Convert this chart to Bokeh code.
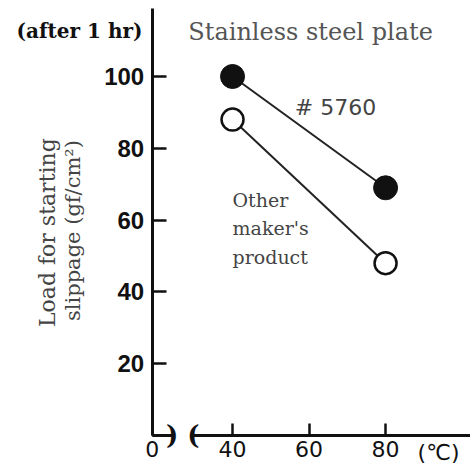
import math
from bokeh.plotting import figure
from bokeh.models import Range1d, FixedTicker, Label
from bokeh.embed import file_html
from bokeh.resources import INLINE

# ---- data ----
temps = [40, 80]
load_5760 = [100, 69]
load_other = [88, 48]

x_ticks = [19, 40, 60, 80]
x_tick_labels = {19: "0"}
y_ticks = [20, 40, 60, 80, 100]

X_ORIGIN = 19
X_START, X_END = -20.65, 102.2
Y_START, Y_END = -9.75, 121.17
Y_AXIS_TOP = 119
BREAK_L, BREAK_R = 24.2, 29.8

p = figure(width=470, height=470,
           x_range=Range1d(X_START, X_END), y_range=Range1d(Y_START, Y_END),
           output_backend="svg", toolbar_location=None,
           min_border_left=0, min_border_right=0,
           min_border_top=0, min_border_bottom=0)
p.outline_line_color = None
p.grid.visible = False
p.background_fill_color = "white"
p.border_fill_color = "white"

# x axis (its line is drawn as broken segments below)
xa = p.xaxis[0]
xa.fixed_location = 0
xa.bounds = (X_ORIGIN, X_END)
xa.ticker = FixedTicker(ticks=x_ticks)
xa.major_label_overrides = x_tick_labels
xa.axis_line_color = None
xa.major_tick_in = 12
xa.major_tick_out = 0
xa.major_tick_line_width = 2.5
xa.major_tick_line_color = "#111111"
xa.minor_tick_line_color = None
xa.major_label_text_font = "DejaVu Sans"
xa.major_label_text_font_size = "22px"
xa.major_label_text_color = "#111111"
xa.major_label_standoff = 6

ya = p.yaxis[0]
ya.fixed_location = X_ORIGIN
ya.bounds = (0, Y_AXIS_TOP)
ya.ticker = FixedTicker(ticks=y_ticks)
ya.axis_line_width = 3
ya.axis_line_color = "#111111"
ya.major_tick_in = 14
ya.major_tick_out = 0
ya.major_tick_line_width = 2.5
ya.major_tick_line_color = "#111111"
ya.minor_tick_line_color = None
ya.major_label_text_font = "Liberation Sans"
ya.major_label_text_font_style = "bold"
ya.major_label_text_font_size = "24px"
ya.major_label_text_color = "#111111"
ya.major_label_standoff = 8

# broken x axis line
p.segment(x0=[X_ORIGIN, BREAK_R], y0=[0, 0], x1=[BREAK_L, X_END], y1=[0, 0],
          line_width=3, line_color="#111111")
for bx, ch in [(BREAK_L, ")"), (BREAK_R, "(")]:
    p.add_layout(Label(x=bx, y=0, text=ch, text_align="center", text_baseline="middle",
                       text_font="DejaVu Serif", text_font_style="bold",
                       text_font_size="26px", text_color="#111111"))

# series
p.line(temps, load_5760, line_width=2, line_color="#222222")
p.line(temps, load_other, line_width=2, line_color="#222222")
p.scatter(temps, load_5760, size=24, fill_color="#111111", line_color="#111111")
p.scatter(temps, load_other, size=22, fill_color="white", line_color="#111111", line_width=2.5)

def lab(x, y, text, size, color="#444444", font="DejaVu Serif", style="normal",
        align="center", angle=0):
    p.add_layout(Label(x=x, y=y, text=text, text_align=align, text_baseline="middle",
                       text_font=font, text_font_style=style, text_font_size=size,
                       text_color=color, angle=angle))

lab(0, 112.8, "(after 1 hr)", "20px", color="#111111", style="bold")
lab(60.4, 112.3, "Stainless steel plate", "24px", color="#555555")
lab(66.9, 91.4, "# 5760", "22px", color="#444444", font="DejaVu Sans")
lab(40, 65.5, "Other", "19px", align="left")
lab(40, 57.9, "maker's", "19px", align="left")
lab(40, 49.6, "product", "19px", align="left")
lab(-8.4, 56.5, "Load for starting", "22px", color="#444444", angle=math.pi / 2)
lab(-1.6, 57.1, "slippage (gf/cm²)", "21px", color="#444444", angle=math.pi / 2)
lab(93.85, -4.7, "(℃)", "22px", color="#111111", font="DejaVu Sans")

open("out.html", "w").write(file_html(p, INLINE))
